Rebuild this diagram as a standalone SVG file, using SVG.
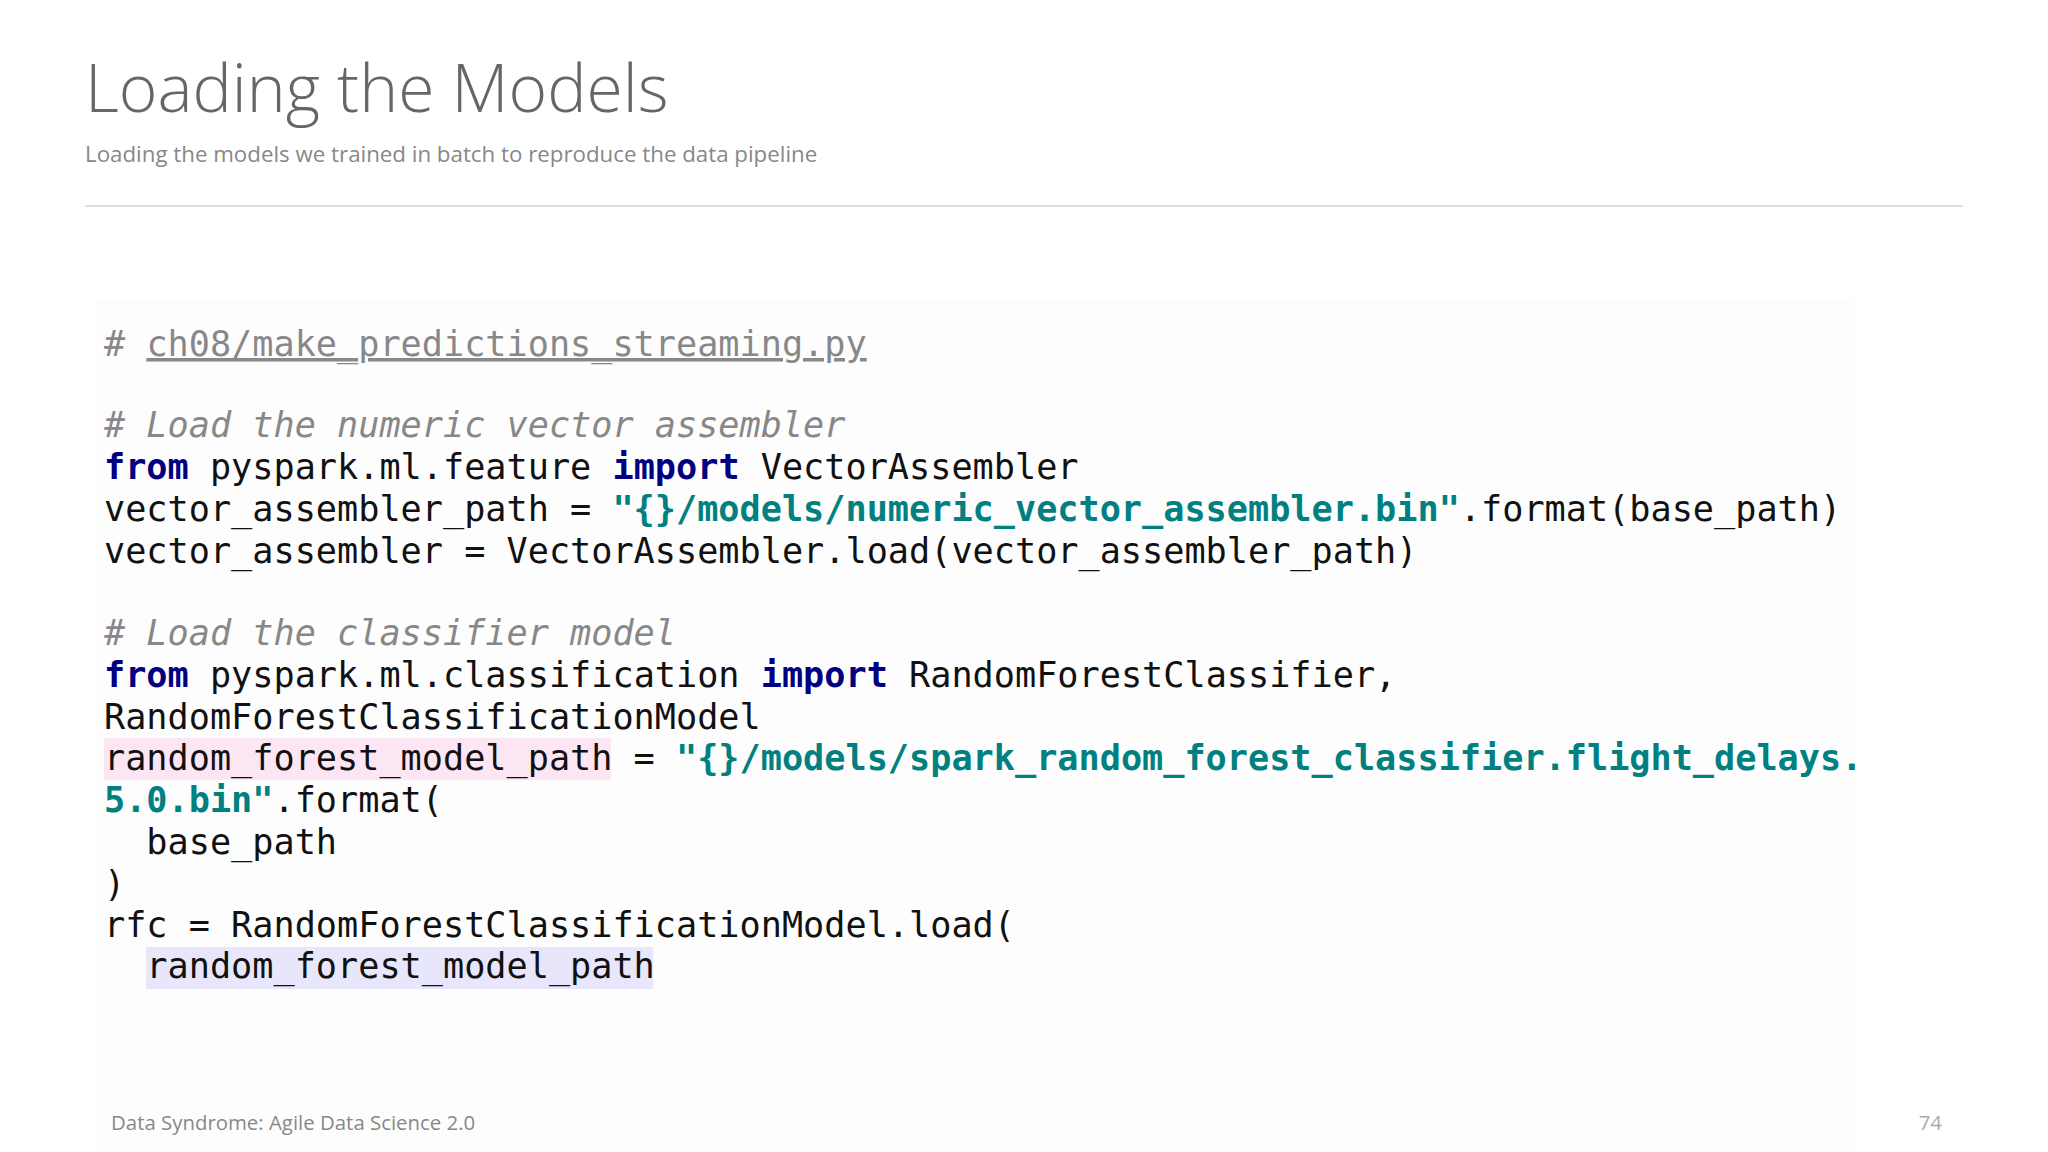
<svg xmlns="http://www.w3.org/2000/svg" width="2048" height="1152" viewBox="0 0 2048 1152">
<style>
.c{font-family:"DejaVu Sans Mono",monospace;font-size:35.2px;fill:#111;white-space:pre}
.k{fill:#000080;font-weight:bold}
.s{fill:#008080;font-weight:bold}
.m{fill:#888;font-style:italic}
.h{font-family:"Source Sans Pro","Open Sans",sans-serif}
</style>
<rect width="2048" height="1152" fill="#fff"/>
<g id="header">
<text x="85" y="112" class="h" font-size="66" font-weight="300" fill="#666">Loading the Models</text>
<text x="85" y="162" class="h" font-size="22.3" fill="#888">Loading the models we trained in batch to reproduce the data pipeline</text>
<line x1="85" y1="206" x2="1963" y2="206" stroke="#ddd" stroke-width="2"/>
</g>
<g id="code">
<rect x="94" y="300" width="1760" height="850" fill="#fdfdfe"/>
<rect x="104" y="738" width="507" height="42" fill="#fde6f4"/>
<rect x="146" y="947" width="507" height="42" fill="#e8e6fb"/>
<text class="c" y="356"><tspan x="104" fill="#888"># </tspan><tspan fill="#888" text-decoration="underline">ch08/make_predictions_streaming.py</tspan></text>
<text class="c m" x="104" y="437"># Load the numeric vector assembler</text>
<text class="c" x="104" y="479"><tspan class="k">from</tspan> pyspark.ml.feature <tspan class="k">import</tspan> VectorAssembler</text>
<text class="c" x="104" y="521">vector_assembler_path = <tspan class="s">"{}/models/numeric_vector_assembler.bin"</tspan>.format(base_path)</text>
<text class="c" x="104" y="563">vector_assembler = VectorAssembler.load(vector_assembler_path)</text>
<text class="c m" x="104" y="645"># Load the classifier model</text>
<text class="c" x="104" y="687"><tspan class="k">from</tspan> pyspark.ml.classification <tspan class="k">import</tspan> RandomForestClassifier,</text>
<text class="c" x="104" y="729">RandomForestClassificationModel</text>
<text class="c" x="104" y="770">random_forest_model_path = <tspan class="s">"{}/models/spark_random_forest_classifier.flight_delays.</tspan></text>
<text class="c" x="104" y="812"><tspan class="s">5.0.bin"</tspan>.format(</text>
<text class="c" x="104" y="854">  base_path</text>
<text class="c" x="104" y="896">)</text>
<text class="c" x="104" y="937">rfc = RandomForestClassificationModel.load(</text>
<text class="c" x="104" y="978">  random_forest_model_path</text>
</g>
<g id="footer">
<text x="111" y="1130" class="h" font-size="20.4" fill="#888">Data Syndrome: Agile Data Science 2.0</text>
<text x="1942" y="1130" class="h" font-size="20.4" fill="#aaa" text-anchor="end">74</text>
</g>
</svg>
